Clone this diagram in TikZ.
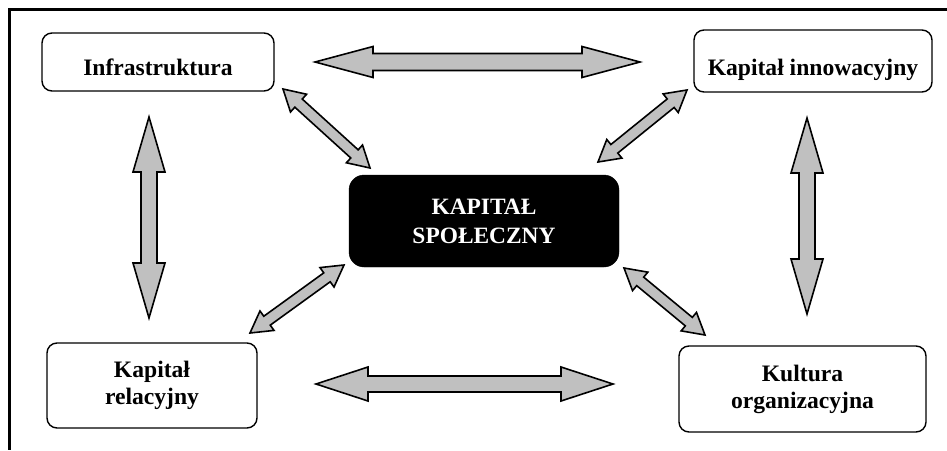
\documentclass[tikz,border=0pt]{standalone}
\usepackage{fontspec}
\setmainfont{Liberation Serif}
\usetikzlibrary{calc}
\definecolor{arrowgray}{RGB}{192,192,192}
\tikzset{
  box/.style={draw, line width=1.4pt, rounded corners=10pt, fill=white,
    font=\fontsize{23.6}{27}\selectfont\bfseries, inner sep=0pt},
  core/.style={draw=black, fill=black, rounded corners=15pt, text=white,
    font=\fontsize{23.4}{29}\selectfont\bfseries, align=center, inner sep=0pt},
  blockarrow/.style={draw, fill=arrowgray, line width=1.6pt, line join=miter},
  frameline/.style={line width=2.2pt},
}
% #1 end A, #2 end B, #3 half shaft width, #4 half head width, #5 head length
\newcommand\blockdbl[5]{%
  \draw[blockarrow] (#1)
    -- ($(#1)!#5!(#2)!#4!90:(#2)$)
    -- ($(#1)!#5!(#2)!#3!90:(#2)$)
    -- ($(#2)!#5!(#1)!#3!-90:(#1)$)
    -- ($(#2)!#5!(#1)!#4!-90:(#1)$)
    -- (#2)
    -- ($(#2)!#5!(#1)!#4!90:(#1)$)
    -- ($(#2)!#5!(#1)!#3!90:(#1)$)
    -- ($(#1)!#5!(#2)!#3!-90:(#2)$)
    -- ($(#1)!#5!(#2)!#4!-90:(#2)$)
    -- cycle;}
\begin{document}
\begin{tikzpicture}[x=1pt, y=-1pt]
\useasboundingbox (0,0) rectangle (947,450);
% frame
\draw[frameline] (947,9.5) -- (9.5,9.5) -- (9.5,450);

% nodes
\node[box, minimum width=232pt, minimum height=58pt, text height=26pt, text depth=0pt]
  (infra) at (158,62) {Infrastruktura};
\node[box, minimum width=238pt, minimum height=62pt, text height=28pt, text depth=0pt]
  (innow) at (813,61) {Kapitał innowacyjny};
\node[box, align=center, minimum width=210pt, minimum height=85pt]
  (relac) at (152,385.5) {Kapitał\\relacyjny};
\node[box, align=center, minimum width=247pt, minimum height=86pt]
  (kult) at (802.5,389) {Kultura\\organizacyjna};
\node[core, minimum width=270pt, minimum height=92pt]
  (core) at (484,221) {KAPITAŁ\\SPOŁECZNY};

% arrow end points
\coordinate (tA) at (315,62);   \coordinate (tB) at (640,62);
\coordinate (bA) at (316,384);  \coordinate (bB) at (613,384);
\coordinate (lA) at (149,117);  \coordinate (lB) at (149,318);
\coordinate (rA) at (807,118);  \coordinate (rB) at (807,314);
\coordinate (d1A) at (283,89);  \coordinate (d1B) at (370,168);
\coordinate (d2A) at (598,162); \coordinate (d2B) at (687,90);
\coordinate (d3A) at (250,333); \coordinate (d3B) at (344,265);
\coordinate (d4A) at (624,268); \coordinate (d4B) at (705,335);

% arrows
\blockdbl{tA}{tB}{8.5pt}{15.5pt}{58pt}
\blockdbl{bA}{bB}{8pt}{17pt}{52pt}
\blockdbl{lA}{lB}{8pt}{16pt}{55pt}
\blockdbl{rA}{rB}{8pt}{16pt}{55pt}
\blockdbl{d1A}{d1B}{5.5pt}{12pt}{21pt}
\blockdbl{d2A}{d2B}{5.5pt}{12pt}{21pt}
\blockdbl{d3A}{d3B}{5.5pt}{12pt}{21pt}
\blockdbl{d4A}{d4B}{5.5pt}{12pt}{21pt}
\end{tikzpicture}
\end{document}
